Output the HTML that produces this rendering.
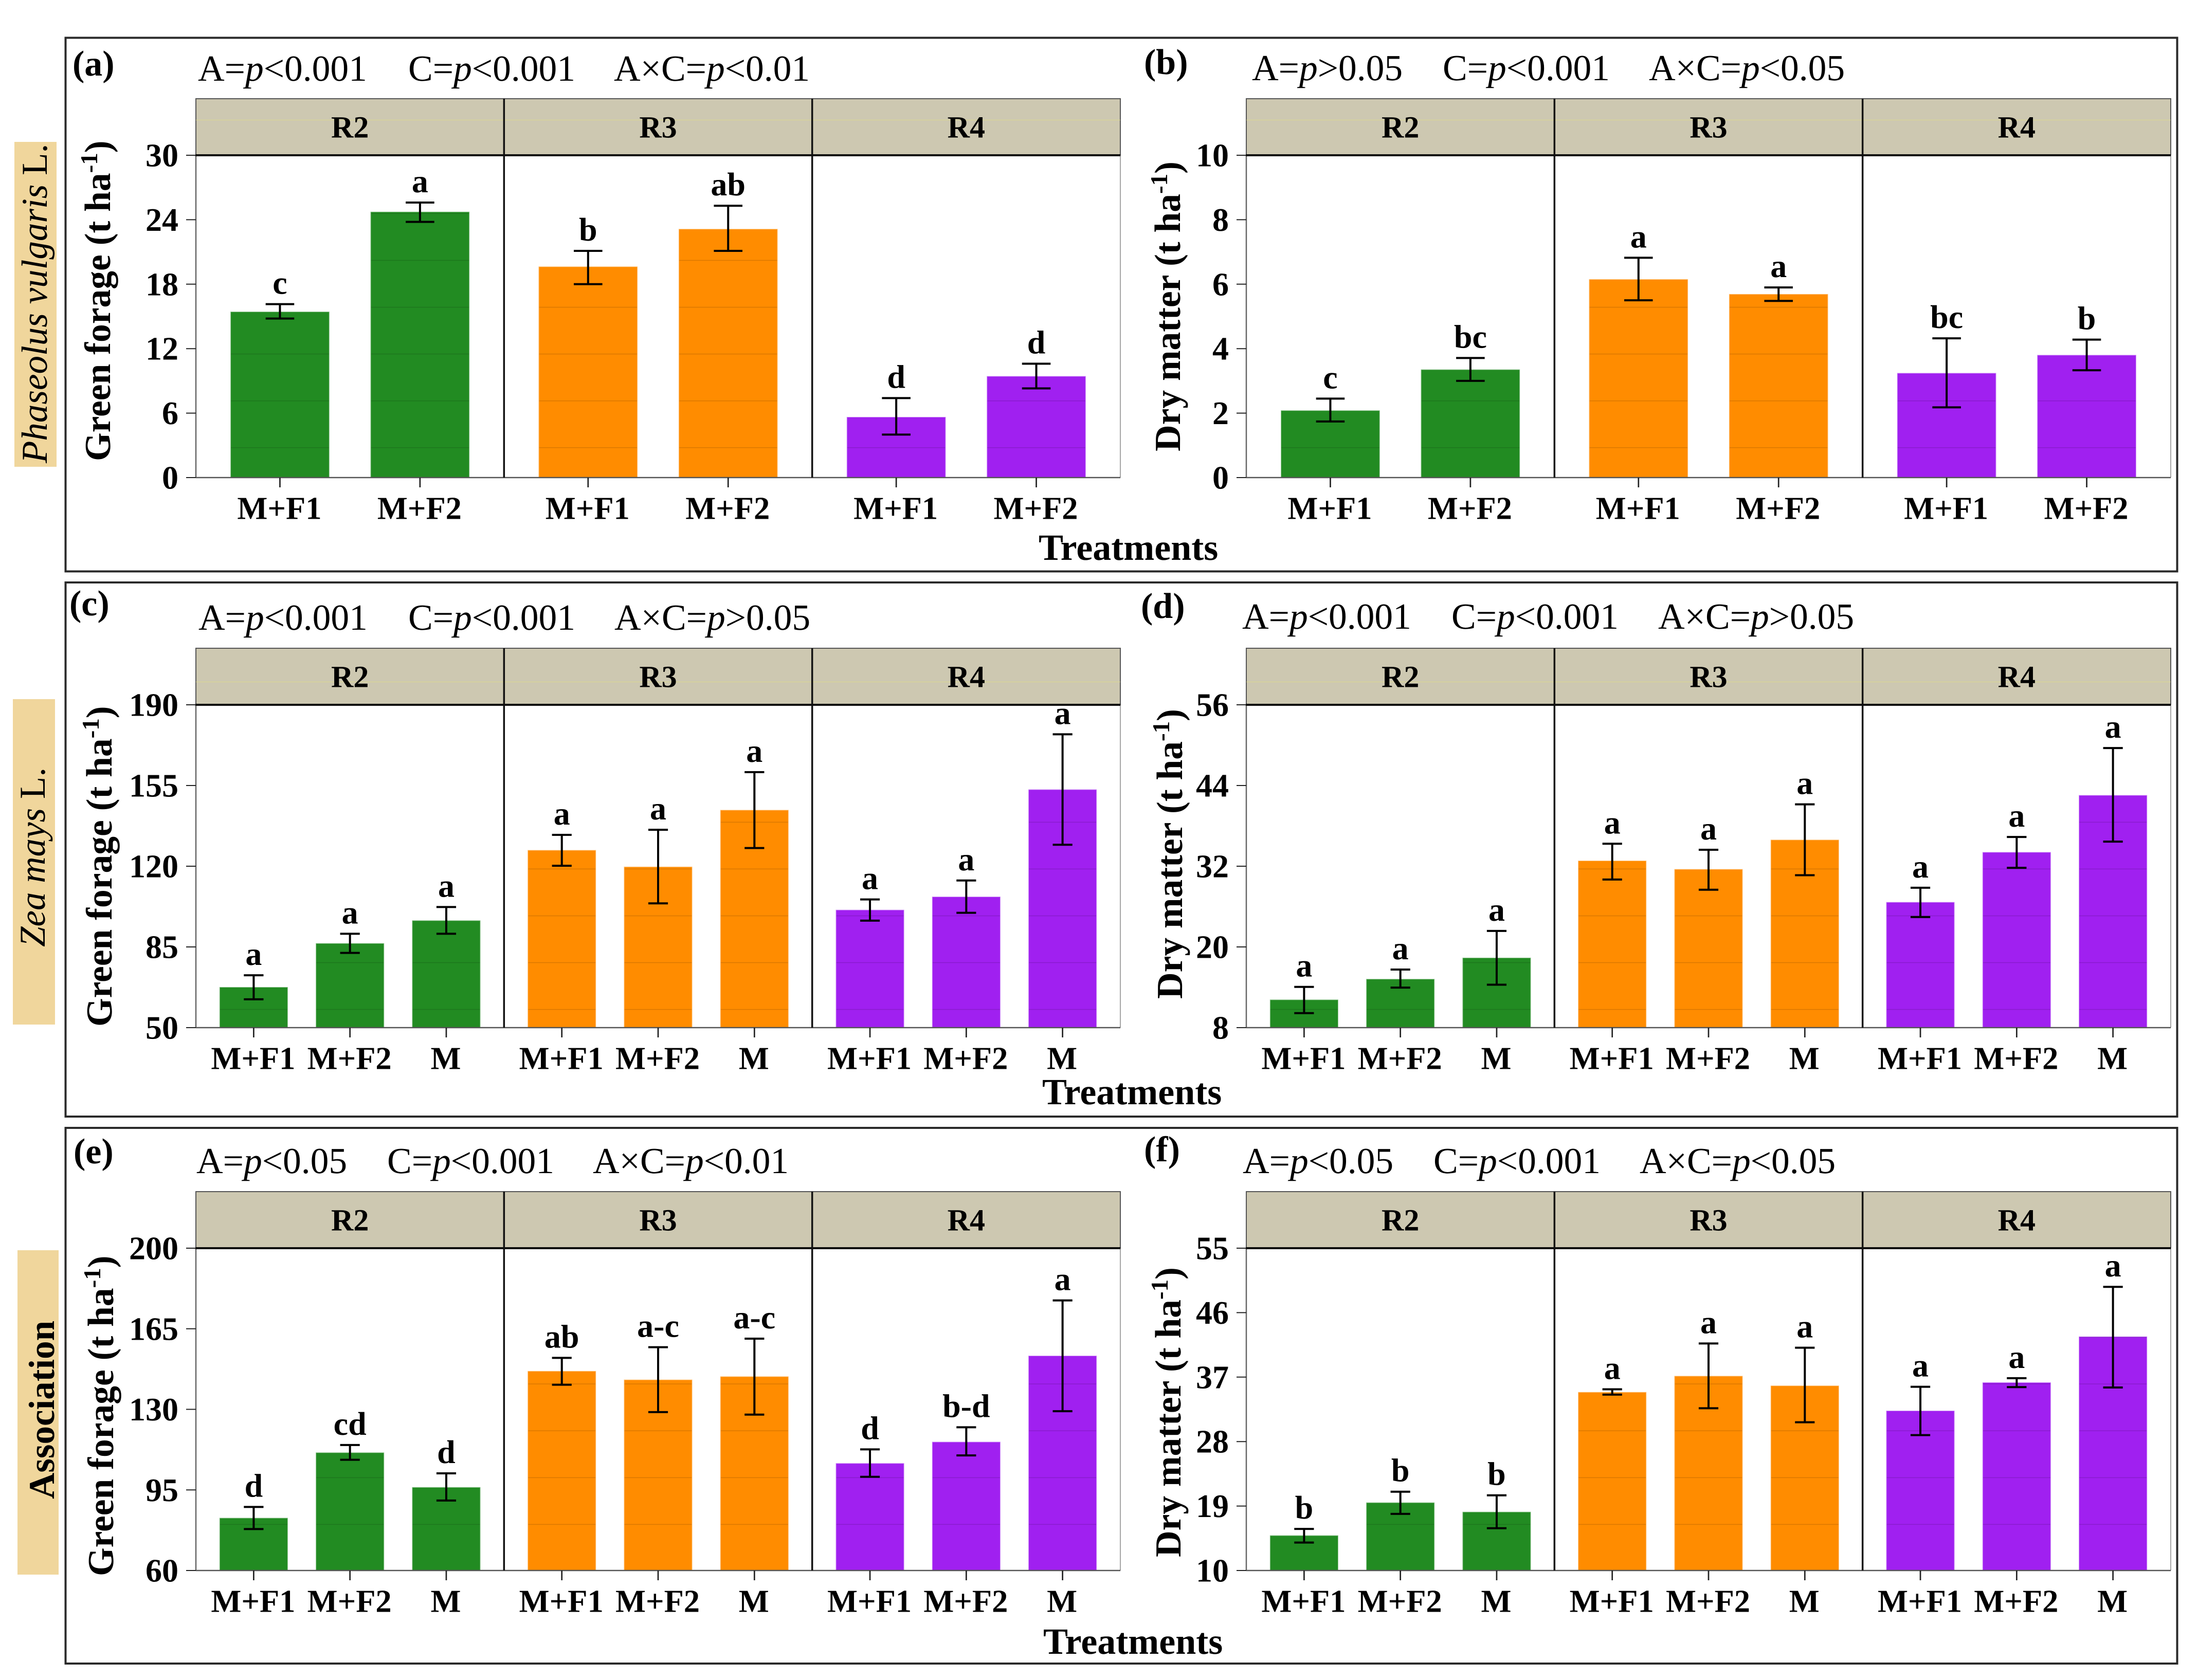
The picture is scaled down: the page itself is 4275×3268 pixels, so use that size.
<!DOCTYPE html>
<html lang="en">
<head>
<meta charset="utf-8">
<title>Green forage and dry matter by treatment</title>
<style>
html,body{margin:0;padding:0;background:#fff;}
svg{display:block;}
text{font-family:"Liberation Serif","DejaVu Serif",serif;fill:#000;text-rendering:geometricPrecision;}
.b{font-weight:bold;}
.stat{font-size:71.5px;}
.tag{font-size:70px;font-weight:bold;}
.yt{font-size:71.5px;font-weight:bold;}
.xt{font-size:72px;font-weight:bold;}
.sup{font-size:47px;}
</style>
</head>
<body>
<svg id="figure" xmlns="http://www.w3.org/2000/svg" width="4275" height="3268" viewBox="0 0 4275 3268">
  <rect x="0" y="0" width="4275" height="3268" fill="#fff"/>

  <rect x="127.5" y="73.5" width="4107" height="1038" fill="none" stroke="#2a2a2a" stroke-width="4"/>
  <rect x="127.5" y="1133" width="4107" height="1039" fill="none" stroke="#2a2a2a" stroke-width="4"/>
  <rect x="127.5" y="2194" width="4107" height="1042" fill="none" stroke="#2a2a2a" stroke-width="4"/>

  <rect x="28" y="276" width="82" height="632" fill="#F0D69C"/>
  <rect x="25" y="1360" width="82" height="633" fill="#F0D69C"/>
  <rect x="34" y="2432" width="80" height="631" fill="#F0D69C"/>
  <text transform="translate(91,901) rotate(-90)" font-size="71"><tspan font-style="italic">Phaseolus vulgaris</tspan> L.</text>
  <text transform="translate(87,1842) rotate(-90)" font-size="71"><tspan font-style="italic">Zea mays</tspan> L.</text>
  <text class="b" transform="translate(105,2916) rotate(-90)" font-size="71">Association</text>

  <text class="tag" x="141" y="147">(a)</text>
  <text class="tag" x="2225" y="144">(b)</text>
  <text class="tag" x="135" y="1197">(c)</text>
  <text class="tag" x="2219" y="1202">(d)</text>
  <text class="tag" x="143" y="2263">(e)</text>
  <text class="tag" x="2225" y="2259">(f)</text>

  <text class="stat" x="385" y="157">A=<tspan font-style="italic">p</tspan>&lt;0.001</text>
  <text class="stat" x="794" y="157">C=<tspan font-style="italic">p</tspan>&lt;0.001</text>
  <text class="stat" x="1194" y="157">A×C=<tspan font-style="italic">p</tspan>&lt;0.01</text>
  <text class="stat" x="2435" y="156">A=<tspan font-style="italic">p</tspan>&gt;0.05</text>
  <text class="stat" x="2806" y="156">C=<tspan font-style="italic">p</tspan>&lt;0.001</text>
  <text class="stat" x="3207" y="156">A×C=<tspan font-style="italic">p</tspan>&lt;0.05</text>
  <text class="stat" x="386" y="1225">A=<tspan font-style="italic">p</tspan>&lt;0.001</text>
  <text class="stat" x="794" y="1225">C=<tspan font-style="italic">p</tspan>&lt;0.001</text>
  <text class="stat" x="1195" y="1225">A×C=<tspan font-style="italic">p</tspan>&gt;0.05</text>
  <text class="stat" x="2416" y="1223">A=<tspan font-style="italic">p</tspan>&lt;0.001</text>
  <text class="stat" x="2823" y="1223">C=<tspan font-style="italic">p</tspan>&lt;0.001</text>
  <text class="stat" x="3225" y="1223">A×C=<tspan font-style="italic">p</tspan>&gt;0.05</text>
  <text class="stat" x="382" y="2282">A=<tspan font-style="italic">p</tspan>&lt;0.05</text>
  <text class="stat" x="753" y="2282">C=<tspan font-style="italic">p</tspan>&lt;0.001</text>
  <text class="stat" x="1153" y="2282">A×C=<tspan font-style="italic">p</tspan>&lt;0.01</text>
  <text class="stat" x="2417" y="2282">A=<tspan font-style="italic">p</tspan>&lt;0.05</text>
  <text class="stat" x="2788" y="2282">C=<tspan font-style="italic">p</tspan>&lt;0.001</text>
  <text class="stat" x="3189" y="2282">A×C=<tspan font-style="italic">p</tspan>&lt;0.05</text>

  <text class="yt" transform="translate(214,897) rotate(-90)">Green forage (t ha<tspan class="sup" dy="-25">-1</tspan><tspan dy="25">)</tspan></text>
  <text class="yt" transform="translate(2295,878) rotate(-90)">Dry matter (t ha<tspan class="sup" dy="-25">-1</tspan><tspan dy="25">)</tspan></text>
  <text class="yt" transform="translate(217,1997) rotate(-90)">Green forage (t ha<tspan class="sup" dy="-25">-1</tspan><tspan dy="25">)</tspan></text>
  <text class="yt" transform="translate(2299,1943) rotate(-90)">Dry matter (t ha<tspan class="sup" dy="-25">-1</tspan><tspan dy="25">)</tspan></text>
  <text class="yt" transform="translate(220,3066) rotate(-90)">Green forage (t ha<tspan class="sup" dy="-25">-1</tspan><tspan dy="25">)</tspan></text>
  <text class="yt" transform="translate(2296,3029) rotate(-90)">Dry matter (t ha<tspan class="sup" dy="-25">-1</tspan><tspan dy="25">)</tspan></text>

  <text class="xt" x="2020" y="1089">Treatments</text>
  <text class="xt" x="2027" y="2148">Treatments</text>
  <text class="xt" x="2029" y="3217">Treatments</text>

  <g id="charts"></g>
</svg>

<script>
// ---------- shared categories ----------
const facetNames = ['R2', 'R3', 'R4'];
const treatmentsTwo = ['M+F1', 'M+F2'];
const treatmentsThree = ['M+F1', 'M+F2', 'M'];

// ---------- panel (a) Phaseolus vulgaris, green forage ----------
const ticksA = [0, 6, 12, 18, 24, 30];
const tickLabelsA = ['0', '6', '12', '18', '24', '30'];
const meansA = [15.4, 24.7, 19.6, 23.1, 5.6, 9.4];
const upperA = [16.14, 25.6, 21.1, 25.3, 7.4, 10.6];
const lowerA = [14.8, 23.8, 18.0, 21.1, 4.0, 8.3];
const lettersA = ['c', 'a', 'b', 'ab', 'd', 'd'];

// ---------- panel (b) Phaseolus vulgaris, dry matter ----------
const ticksB = [0, 2, 4, 6, 8, 10];
const tickLabelsB = ['0', '2', '4', '6', '8', '10'];
const meansB = [2.07, 3.34, 6.14, 5.68, 3.23, 3.79];
const upperB = [2.45, 3.71, 6.82, 5.9, 4.32, 4.28];
const lowerB = [1.74, 3.0, 5.5, 5.48, 2.18, 3.33];
const lettersB = ['c', 'bc', 'a', 'a', 'bc', 'b'];

// ---------- panel (c) Zea mays, green forage ----------
const ticksC = [50, 85, 120, 155, 190];
const tickLabelsC = ['50', '85', '120', '155', '190'];
const meansC = [67.4, 86.4, 96.3, 126.8, 119.6, 144.2, 100.9, 106.6, 153.1];
const upperC = [72.7, 90.7, 102.3, 133.6, 135.8, 160.8, 105.6, 113.8, 177.2];
const lowerC = [62.3, 82.4, 90.7, 120.2, 103.9, 127.9, 96.4, 99.8, 129.3];
const lettersC = ['a', 'a', 'a', 'a', 'a', 'a', 'a', 'a', 'a'];

// ---------- panel (d) Zea mays, dry matter ----------
const ticksD = [8, 20, 32, 44, 56];
const tickLabelsD = ['8', '20', '32', '44', '56'];
const meansD = [12.1, 15.17, 18.33, 32.76, 31.5, 35.87, 26.6, 34.03, 42.5];
const upperD = [14.06, 16.64, 22.38, 35.34, 34.45, 41.2, 28.8, 36.35, 49.57];
const lowerD = [10.16, 13.95, 14.38, 30.02, 28.5, 30.66, 24.44, 31.76, 35.66];
const lettersD = ['a', 'a', 'a', 'a', 'a', 'a', 'a', 'a', 'a'];

// ---------- panel (e) Association, green forage ----------
const ticksE = [60, 95, 130, 165, 200];
const tickLabelsE = ['60', '95', '130', '165', '200'];
const meansE = [82.66, 111.06, 96, 146.45, 142.7, 144.1, 106.4, 115.7, 153.1];
const upperE = [87.6, 114.5, 102.2, 152.35, 157, 160.7, 112.6, 122.2, 177.3];
const lowerE = [78, 108.1, 90.4, 140.7, 128.8, 127.7, 100.7, 110, 129.2];
const lettersE = ['d', 'cd', 'd', 'ab', 'a-c', 'a-c', 'd', 'b-d', 'a'];

// ---------- panel (f) Association, dry matter ----------
const ticksF = [10, 19, 28, 37, 46, 55];
const tickLabelsF = ['10', '19', '28', '37', '46', '55'];
const meansF = [14.84, 19.43, 18.13, 34.85, 37.1, 35.75, 32.25, 36.2, 42.6];
const upperF = [15.8, 21, 20.5, 35.3, 41.7, 41.1, 35.65, 36.85, 49.6];
const lowerF = [13.9, 17.9, 15.9, 34.55, 32.65, 30.7, 28.9, 35.6, 35.55];
const lettersF = ['b', 'b', 'b', 'a', 'a', 'a', 'a', 'a', 'a'];

// ---------- styling and layout (not data) ----------
const facetPalette = ['#228B22', '#FF8C00', '#A020F0'];
const SVG_NS = 'http://www.w3.org/2000/svg';
const STREAK_ORIGIN = 506.5;
const STREAK_PERIOD = 91.07;

function add(parent, tag, attrs, content) {
  const node = document.createElementNS(SVG_NS, tag);
  for (const key in attrs) node.setAttribute(key, attrs[key]);
  if (content !== undefined) node.textContent = content;
  parent.appendChild(node);
  return node;
}

function drawPanel(cfg) {
  const root = document.getElementById('charts');
  const group = add(root, 'g', {});
  
  

  const perFacet = cfg.categories.length;
  const facetWidth = (cfg.right - cfg.left) / facetNames.length;
  const unit = facetWidth / (perFacet - 1 + 1.2);
  const domainMin = cfg.ticks[0];
  const domainMax = cfg.ticks[cfg.ticks.length - 1];
  const yScale = v => cfg.bottom - (v - domainMin) / (domainMax - domainMin) * (cfg.bottom - cfg.top);
  const xScale = (f, c) => cfg.left + f * facetWidth + (0.6 + c) * unit;

  // strips
  facetNames.forEach((name, f) => {
    const sx = cfg.left + f * facetWidth;
    const strip = add(group, 'rect', {x: sx, y: cfg.stripTop, width: facetWidth, height: cfg.top - cfg.stripTop, fill: '#CDC8B1', stroke: '#555', 'stroke-width': 2});
    
    
    if (cfg.stripStreak !== undefined) {
      const glint = add(group, 'line', {x1: sx, x2: sx + facetWidth, y1: cfg.stripStreak, y2: cfg.stripStreak, stroke: '#E6E27A', 'stroke-opacity': 0.6, 'stroke-width': 1});
      
      
    }
    const label = add(group, 'text', {x: sx + facetWidth / 2, y: cfg.top - 34.5, 'text-anchor': 'middle', 'font-size': 60, 'font-weight': 'bold', fill: '#1a1a1a'}, name);
    
    
  });

  // bars with faint horizontal streaks
  cfg.means.forEach((mean, i) => {
    const f = Math.floor(i / perFacet);
    const c = i % perFacet;
    const cx = xScale(f, c);
    const barWidth = unit * 0.7;
    const yTop = yScale(mean);
    const bar = add(group, 'rect', {x: cx - barWidth / 2, y: yTop, width: barWidth, height: cfg.bottom - yTop, fill: facetPalette[f], stroke: facetPalette[f], 'stroke-opacity': 0.5, 'stroke-width': 2});
    
    
    const firstStreak = Math.ceil((yTop - STREAK_ORIGIN) / STREAK_PERIOD);
    for (let k = firstStreak; STREAK_ORIGIN + k * STREAK_PERIOD < cfg.bottom; k++) {
      const sy = STREAK_ORIGIN + k * STREAK_PERIOD;
      const streak = add(group, 'line', {x1: cx - barWidth / 2, x2: cx + barWidth / 2, y1: sy, y2: sy, stroke: '#000', 'stroke-opacity': 0.14, 'stroke-width': 1.5});
      
      
    }
  });

  // panel edges
  const leftEdge = add(group, 'line', {x1: cfg.left, x2: cfg.left, y1: cfg.top, y2: cfg.bottom, stroke: '#666', 'stroke-width': 2.5});
  
  
  const rightEdge = add(group, 'line', {x1: cfg.right, x2: cfg.right, y1: cfg.top, y2: cfg.bottom, stroke: '#888', 'stroke-width': 1.5});
  
  
  const baseLine = add(group, 'line', {x1: cfg.left, x2: cfg.right, y1: cfg.bottom, y2: cfg.bottom, stroke: '#555', 'stroke-width': 2.5});
  
  
  const stripBase = add(group, 'line', {x1: cfg.left - 1, x2: cfg.right, y1: cfg.top, y2: cfg.top, stroke: '#0a0a0a', 'stroke-width': 4});
  
  
  for (let f = 1; f < facetNames.length; f++) {
    const sep = add(group, 'line', {x1: cfg.left + f * facetWidth, x2: cfg.left + f * facetWidth, y1: cfg.stripTop, y2: cfg.bottom, stroke: '#111', 'stroke-width': 3.5});
    
    
  }

  // y ticks
  cfg.ticks.forEach((t, i) => {
    const ty = yScale(t);
    const tick = add(group, 'line', {x1: cfg.left - 19, x2: cfg.left, y1: ty, y2: ty, stroke: '#222', 'stroke-width': 2});
    
    
    const lab = add(group, 'text', {x: cfg.left - 34, y: ty + 21.5, 'text-anchor': 'end', 'font-size': 64, 'font-weight': 'bold'}, cfg.tickLabels[i]);
    
    
  });

  // x ticks, labels
  facetNames.forEach((name, f) => {
    cfg.categories.forEach((cat, c) => {
      const cx = xScale(f, c);
      const tick = add(group, 'line', {x1: cx, x2: cx, y1: cfg.bottom, y2: cfg.bottom + 19, stroke: '#222', 'stroke-width': 2.7});
      
      
      const lab = add(group, 'text', {x: cx - 1, y: cfg.bottom + 80.5, 'text-anchor': 'middle', 'font-size': 62.5, 'font-weight': 'bold'}, cat);
      
      
    });
  });

  // error bars and significance letters
  cfg.means.forEach((mean, i) => {
    const f = Math.floor(i / perFacet);
    const c = i % perFacet;
    const cx = xScale(f, c);
    const capHalf = unit * 0.102;
    const hi = yScale(cfg.upper[i]);
    const lo = yScale(cfg.lower[i]);
    const stem = add(group, 'line', {x1: cx, x2: cx, y1: hi, y2: lo, stroke: '#000', 'stroke-width': 4});
    
    
    const capHi = add(group, 'line', {x1: cx - capHalf, x2: cx + capHalf, y1: hi, y2: hi, stroke: '#000', 'stroke-width': 4});
    
    
    const capLo = add(group, 'line', {x1: cx - capHalf, x2: cx + capHalf, y1: lo, y2: lo, stroke: '#000', 'stroke-width': 4});
    
    
    const letter = add(group, 'text', {x: cx, y: hi - 20, 'text-anchor': 'middle', 'font-size': 64, 'font-weight': 'bold'}, cfg.letters[i]);
    
    
  });
}

drawPanel({id: 'a', left: 381, right: 2179, stripTop: 192, top: 302, bottom: 929, stripStreak: 233.5, categories: treatmentsTwo, ticks: ticksA, tickLabels: tickLabelsA, means: meansA, upper: upperA, lower: lowerA, letters: lettersA});
drawPanel({id: 'b', left: 2424, right: 4222, stripTop: 192, top: 302, bottom: 929, stripStreak: 233.5, categories: treatmentsTwo, ticks: ticksB, tickLabels: tickLabelsB, means: meansB, upper: upperB, lower: lowerB, letters: lettersB});
drawPanel({id: 'c', left: 381, right: 2179, stripTop: 1261, top: 1371, bottom: 1999, stripStreak: 1326.5, categories: treatmentsThree, ticks: ticksC, tickLabels: tickLabelsC, means: meansC, upper: upperC, lower: lowerC, letters: lettersC});
drawPanel({id: 'd', left: 2424, right: 4222, stripTop: 1261, top: 1371, bottom: 1999, stripStreak: 1326.5, categories: treatmentsThree, ticks: ticksD, tickLabels: tickLabelsD, means: meansD, upper: upperD, lower: lowerD, letters: lettersD});
drawPanel({id: 'e', left: 381, right: 2179, stripTop: 2318, top: 2428, bottom: 3055, categories: treatmentsThree, ticks: ticksE, tickLabels: tickLabelsE, means: meansE, upper: upperE, lower: lowerE, letters: lettersE});
drawPanel({id: 'f', left: 2424, right: 4222, stripTop: 2318, top: 2428, bottom: 3055, categories: treatmentsThree, ticks: ticksF, tickLabels: tickLabelsF, means: meansF, upper: upperF, lower: lowerF, letters: lettersF});
</script>
</body>
</html>
